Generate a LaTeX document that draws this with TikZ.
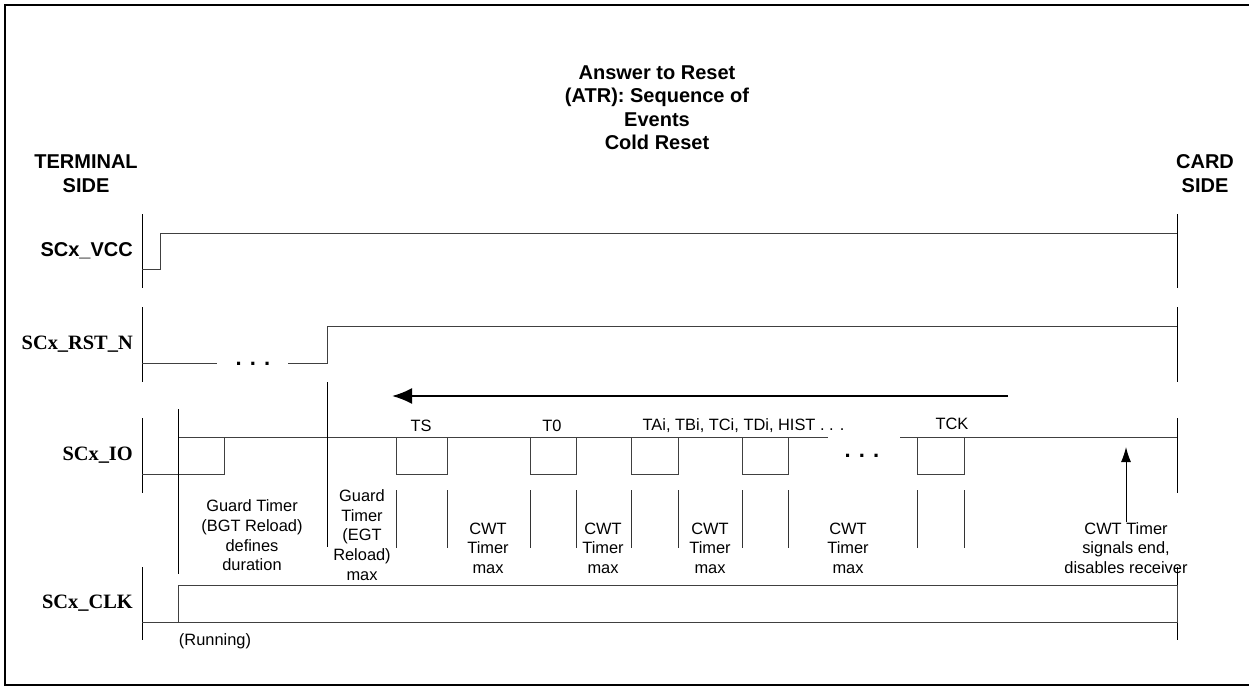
\documentclass[tikz,border=0pt]{standalone}
\usepackage{fontspec}
\setmainfont{Liberation Sans}
\newfontfamily\timesfont{Liberation Serif}
\usetikzlibrary{arrows.meta}

\begin{document}
\begin{tikzpicture}[x=1pt,y=-1pt,
    sig/.style={black!75,line width=1pt},
    axis/.style={black,line width=0.8pt},
    note/.style={font=\fontsize{16.4}{19.6}\selectfont,align=center,inner sep=0pt},
    head/.style={font=\bfseries\fontsize{20}{23.5}\selectfont,align=center,inner sep=0pt},
    sgname/.style={font=\timesfont\bfseries\fontsize{20.4}{24}\selectfont,anchor=east,inner sep=0pt},
    dots/.style={font=\bfseries\fontsize{22}{24}\selectfont,anchor=base,inner sep=0pt}]
    \useasboundingbox (0,0) rectangle (1249,686);
    \draw[line width=2pt] (1249,5) -- (5,5) -- (5,685) -- (1249,685);

    \node[head] (title) at (657,107.5) {Answer to Reset\\(ATR): Sequence of\\Events\\Cold Reset};
    \node[head] (term) at (86,173.5) {TERMINAL\\SIDE};
    \node[head] (card) at (1205,173.5) {CARD\\SIDE};

    \node[sgname,font=\bfseries\fontsize{20}{24}\selectfont] (vcc) at (133,251) {SCx\_VCC};
    \node[sgname] (rst) at (133,344) {SCx\_RST\_N};
    \node[sgname] (io) at (133,455) {SCx\_IO};
    \node[sgname] (clk) at (133,603) {SCx\_CLK};

    % side rails
    \foreach \x in {142,1177} {
        \draw[axis] (\x,214) -- (\x,288);
        \draw[axis] (\x,307) -- (\x,382);
        \draw[axis] (\x,418) -- (\x,493);
        \draw[axis] (\x,567) -- (\x,640);
    }

    % waveforms
    \draw[sig] (142,269) -- (160,269) -- (160,233) -- (1177,233);
    \draw[sig] (142,363) -- (217,363);
    \draw[sig] (288,363) -- (327,363) -- (327,326) -- (1177,326);
    \node[dots] (rstdots) at (253,365) {. . .};
    \draw[sig] (142,474) -- (178,474) -- (178,437) -- (828,437);
    \draw[sig] (900,437) -- (1177,437);
    \node[dots] (iodots) at (862,457) {. . .};
    \foreach \a/\b in {178/224,396/447,530/576,631/678,742/788,917/964}
        \draw[sig] (\a,437) rectangle (\b,474);
    \draw[sig] (142,622) -- (1177,622);
    \draw[sig] (178,585) rectangle (1177,622);

    \draw[axis] (178,409) -- (178,574);
    \draw[axis] (327,382) -- (327,547);
    \foreach \x in {396,447,530,576,631,678,742,788,917,964}
        \draw[black!80,line width=0.7pt] (\x,490) -- (\x,548);

    \node[note] (ts) at (421,426) {TS};
    \node[note] (tzero) at (552,426) {T0};
    \node[note] (tai) at (743.5,426) {TAi, TBi, TCi, TDi, HIST . . .};
    \node[note] (tck) at (952,424) {TCK};

    \node[note] (bgt) at (252,535.5) {Guard Timer\\(BGT Reload)\\defines\\duration};
    \node[note] (egt) at (362,535) {Guard\\Timer\\(EGT\\Reload)\\max};
    \foreach \x/\n in {488/a,603/b,710/c,848/d}
        \node[note] (cwt\n) at (\x,548) {CWT\\Timer\\max};
    \node[note] (cwtend) at (1126,548) {CWT Timer\\signals end,\\disables receiver};
    \node[note] (run) at (215,641) {(Running)};

    \coordinate (arrR) at (1008,396);
    \coordinate (arrL) at (392,396);
    \draw[line width=2pt,-{Latex[length=20pt,width=16pt]}] (arrR) -- (arrL);
    \coordinate (endtip) at (1126,447);
    \draw[line width=1pt,-{Latex[length=15pt,width=10pt]}] (cwtend.north) -- (endtip);
\end{tikzpicture}
\end{document}
